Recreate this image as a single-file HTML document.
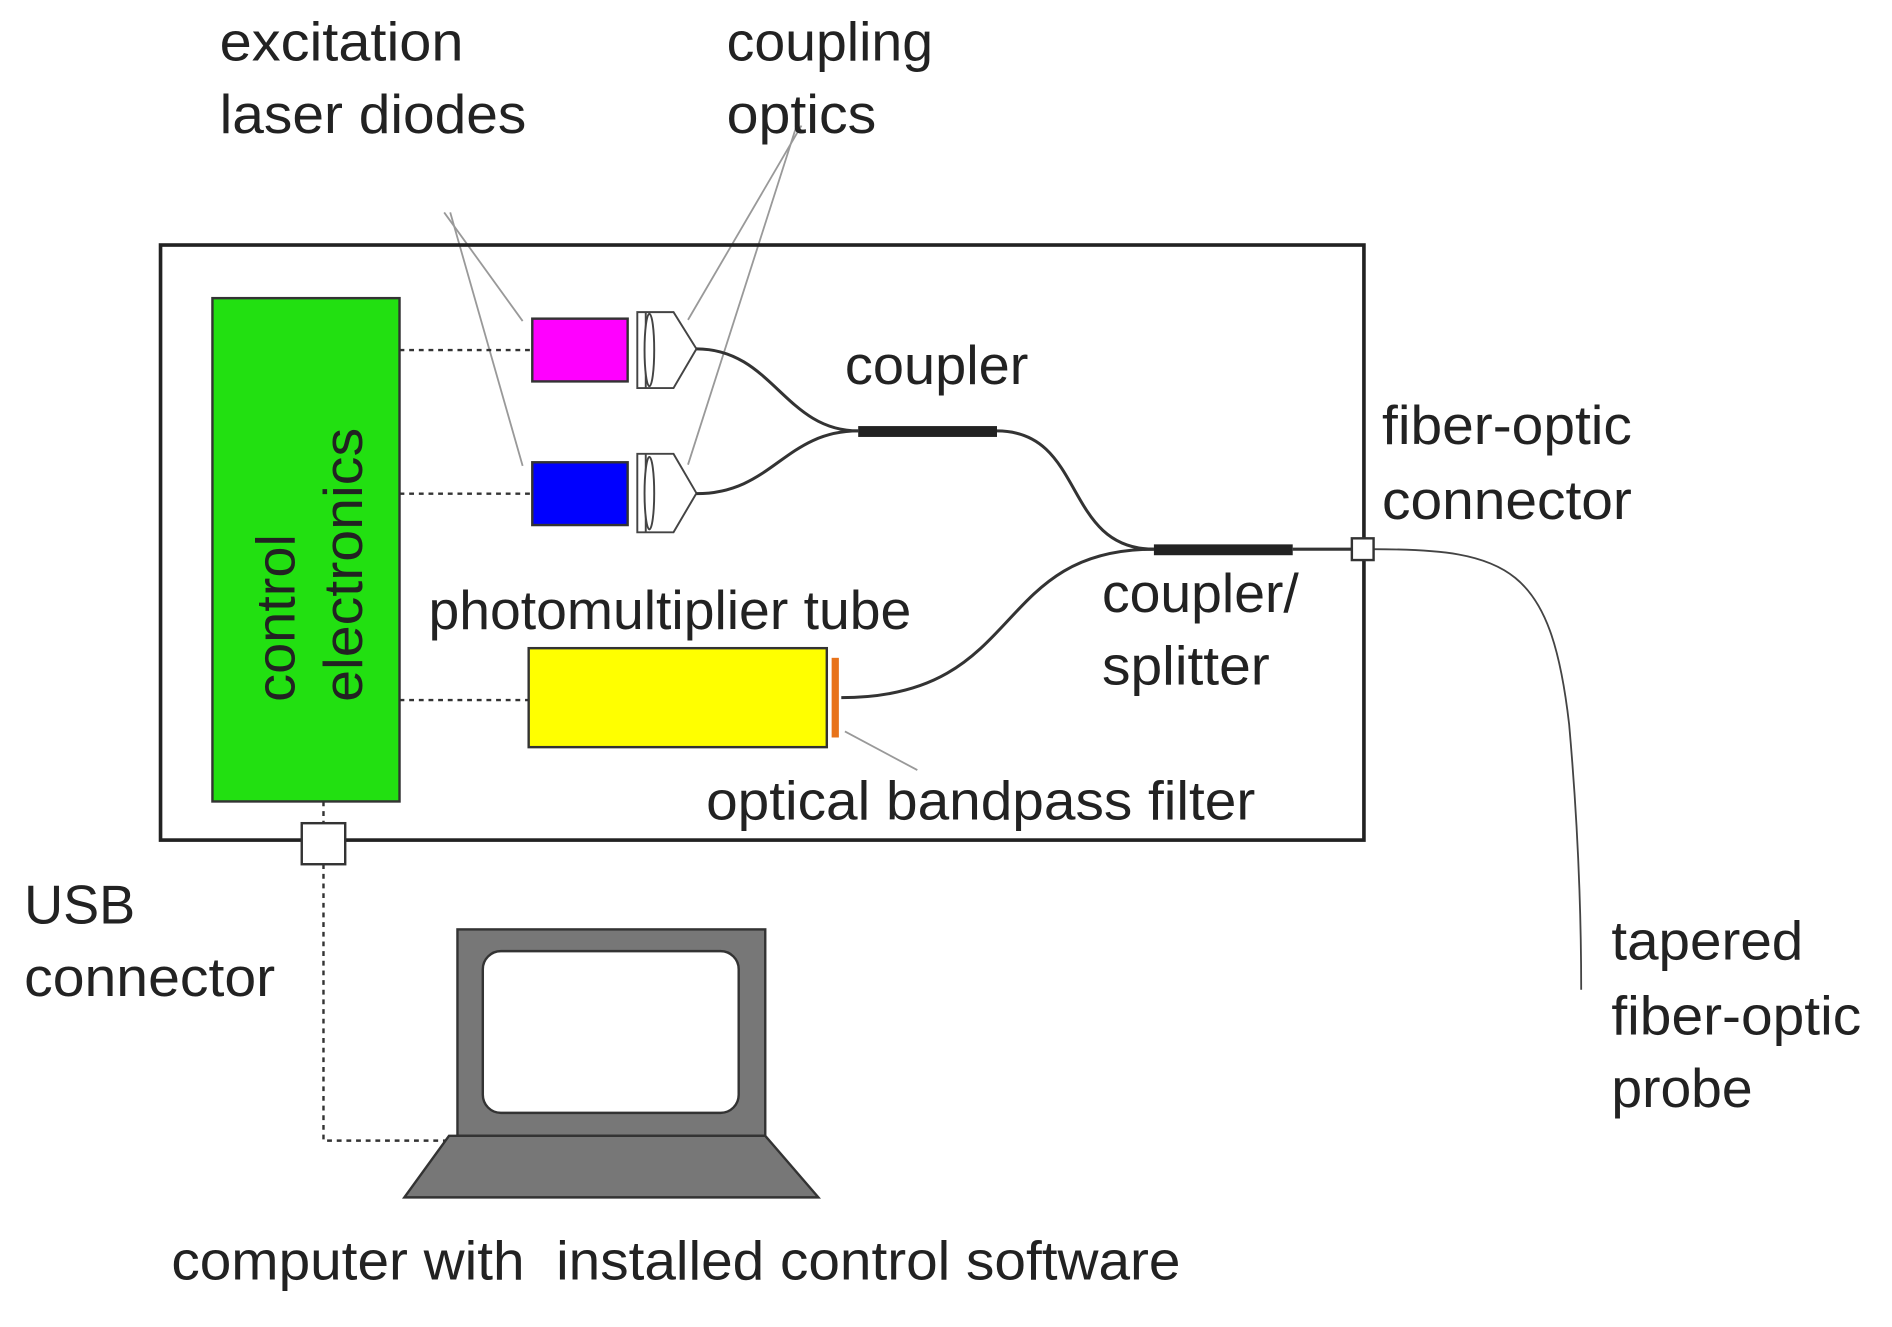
<!DOCTYPE html>
<html><head><meta charset="utf-8"><style>
html,body{margin:0;padding:0;background:#fff;}
svg{display:block;}
text{font-family:"Liberation Sans",Arial,sans-serif;font-size:45px;fill:#222;}
</style></head><body>
<svg width="1892" height="1327" viewBox="0 0 1567.5 1099.4" preserveAspectRatio="none" xmlns="http://www.w3.org/2000/svg">
<rect width="1567.5" height="1099.4" fill="#fff"/>
<g stroke="#999" stroke-width="1.5" fill="none">
<line x1="368" y1="176" x2="433" y2="266"/>
<line x1="373" y1="176" x2="433" y2="386"/>
<line x1="664" y1="104" x2="570" y2="265"/>
<line x1="660" y1="104" x2="570" y2="385"/>
<line x1="700" y1="606" x2="760" y2="638"/>
</g>
<rect x="133" y="203" width="997" height="493" fill="none" stroke="#222" stroke-width="3"/>
<rect x="176" y="247" width="155" height="417" fill="#22e011" stroke="#333" stroke-width="2"/>
<text transform="translate(244,512) rotate(-90)" text-anchor="middle" textLength="139" lengthAdjust="spacingAndGlyphs">control</text>
<text transform="translate(300,468) rotate(-90)" text-anchor="middle" textLength="227" lengthAdjust="spacingAndGlyphs">electronics</text>
<g stroke="#333" stroke-width="2" stroke-dasharray="4,4" fill="none">
<line x1="331" y1="290" x2="441" y2="290"/>
<line x1="331" y1="409" x2="441" y2="409"/>
<line x1="331" y1="580" x2="438" y2="580"/>
<line x1="268" y1="664" x2="268" y2="682"/>
<polyline points="268,716 268,945 372,945"/>
</g>
<rect x="441" y="264" width="79" height="52" fill="#ff00ff" stroke="#333" stroke-width="2"/>
<rect x="441" y="383" width="79" height="52" fill="#0000ff" stroke="#333" stroke-width="2"/>
<g fill="#fff" stroke="#444" stroke-width="1.6">
<path d="M528,258.6 H558 L577,289 L558,321.5 H528 Z"/>
<line x1="535" y1="258.6" x2="535" y2="321.5"/>
<ellipse cx="538" cy="290" rx="4" ry="30"/>
<path d="M528,376 H558 L577,408.6 L558,441 H528 Z"/>
<line x1="535" y1="376" x2="535" y2="441"/>
<ellipse cx="538" cy="408.6" rx="4" ry="30"/>
</g>
<g fill="none" stroke="#333" stroke-width="2.5">
<path d="M577,289 C640,289 650,357 711,357"/>
<path d="M577,409 C640,409 650,357 711,357"/>
<path d="M826,357 C900,357 880,455 956,455"/>
<path d="M697,578 C850,578 820,455 956,455"/>
<line x1="1071" y1="455" x2="1120" y2="455"/>
</g>
<path d="M1138,455 C1250,455 1285,470 1300,600 C1308,690 1310,760 1310,820" fill="none" stroke="#444" stroke-width="1.5"/>
<rect x="711" y="353" width="115" height="9" fill="#222"/>
<rect x="956" y="451" width="115" height="9" fill="#222"/>
<rect x="1120" y="446" width="18" height="18" fill="#fff" stroke="#333" stroke-width="2"/>
<rect x="438" y="537" width="247" height="82" fill="#ffff00" stroke="#333" stroke-width="2"/>
<rect x="689" y="545" width="6" height="66" fill="#e8731a"/>
<rect x="250" y="682" width="36" height="34" fill="#fff" stroke="#333" stroke-width="2"/>
<rect x="379" y="770" width="255" height="171" fill="#777" stroke="#333" stroke-width="2"/>
<rect x="400" y="788" width="212" height="134" rx="15" fill="#fff" stroke="#333" stroke-width="2"/>
<polygon points="372,941 634,941 678,992 335,992" fill="#777" stroke="#333" stroke-width="2"/>
<g lengthAdjust="spacingAndGlyphs">
<text x="182" y="50" textLength="202" lengthAdjust="spacingAndGlyphs">excitation</text>
<text x="182" y="110" textLength="254" lengthAdjust="spacingAndGlyphs">laser diodes</text>
<text x="602" y="50" textLength="171" lengthAdjust="spacingAndGlyphs">coupling</text>
<text x="602" y="110" textLength="124" lengthAdjust="spacingAndGlyphs">optics</text>
<text x="700" y="318" textLength="152" lengthAdjust="spacingAndGlyphs">coupler</text>
<text x="1145" y="368" textLength="207" lengthAdjust="spacingAndGlyphs">fiber-optic</text>
<text x="1145" y="430" textLength="207" lengthAdjust="spacingAndGlyphs">connector</text>
<text x="355" y="521" textLength="400" lengthAdjust="spacingAndGlyphs">photomultiplier tube</text>
<text x="913" y="507" textLength="163" lengthAdjust="spacingAndGlyphs">coupler/</text>
<text x="913" y="567" textLength="139" lengthAdjust="spacingAndGlyphs">splitter</text>
<text x="585" y="679" textLength="455" lengthAdjust="spacingAndGlyphs">optical bandpass filter</text>
<text x="20" y="765" textLength="92" lengthAdjust="spacingAndGlyphs">USB</text>
<text x="20" y="825" textLength="208" lengthAdjust="spacingAndGlyphs">connector</text>
<text x="1335" y="795" textLength="159" lengthAdjust="spacingAndGlyphs">tapered</text>
<text x="1335" y="857" textLength="207" lengthAdjust="spacingAndGlyphs">fiber-optic</text>
<text x="1335" y="917" textLength="117" lengthAdjust="spacingAndGlyphs">probe</text>
<text x="142" y="1060" textLength="836" lengthAdjust="spacingAndGlyphs" xml:space="preserve">computer with  installed control software</text>
</g>
</svg>
</body></html>
